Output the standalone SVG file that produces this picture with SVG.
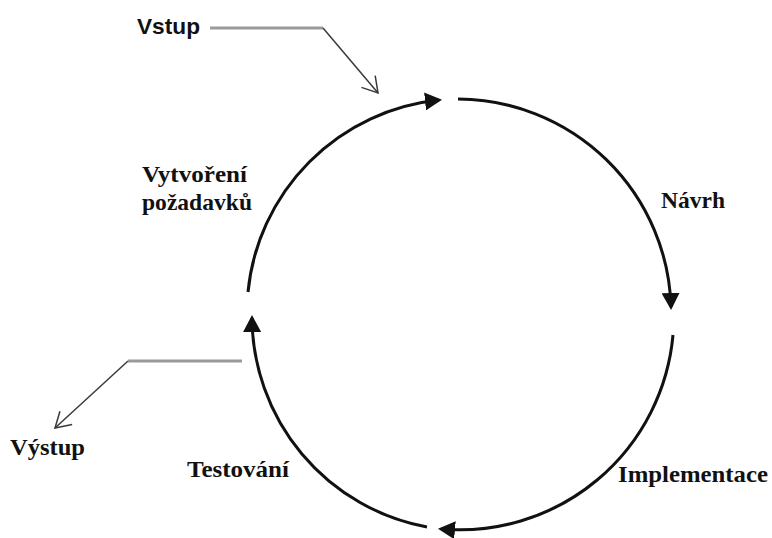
<svg xmlns="http://www.w3.org/2000/svg" width="772" height="538" viewBox="0 0 772 538">
  <style>
    .phase { font-family: "Liberation Serif", "Times New Roman", serif; font-weight: bold; font-size: 24px; fill: #111; }
    .io { font-family: "Liberation Sans", Arial, sans-serif; font-weight: bold; font-size: 22px; fill: #111; }
    .cycle { fill: none; stroke: #111; stroke-width: 3; marker-end: url(#solid-head); }
    .lead { fill: none; stroke: #9a9a9a; stroke-width: 3; }
    .pointer { fill: none; stroke: #3a3a3a; stroke-width: 1.5; marker-end: url(#open-head); }
  </style>
  <defs>
    <marker id="solid-head" markerUnits="userSpaceOnUse" markerWidth="18" markerHeight="18" refX="14" refY="9" orient="auto">
      <path d="M0,0 L17,9 L0,18 Z" fill="#111"/>
    </marker>
    <marker id="open-head" markerUnits="userSpaceOnUse" markerWidth="20" markerHeight="22" refX="16" refY="10" orient="auto">
      <path d="M1,1 L16,10 L1,19" fill="none" stroke="#3a3a3a" stroke-width="1.5"/>
    </marker>
  </defs>

  <rect width="772" height="538" fill="#fff"/>

  <!-- cycle arcs and input/output pointers -->
  <g id="connectors">
    <path class="cycle" d="M248,292 A214,214 0 0 1 439,100"/>
    <path class="cycle" d="M458,99 A214,214 0 0 1 671,307"/>
    <path class="cycle" d="M673,335 A214,214 0 0 1 441,529"/>
    <path class="cycle" d="M427,527 A214,214 0 0 1 252,318"/>

    <path class="lead" d="M210,28 L323,28"/>
    <path class="pointer" d="M323,28 L378,93"/>
    <path class="lead" d="M242,361 L128,361"/>
    <path class="pointer" d="M128,361 L55,428"/>
  </g>

  <g id="vstup">
    <text class="io" x="137" y="34" textLength="63" lengthAdjust="spacingAndGlyphs">Vstup</text>
  </g>
  <g id="vytvoreni-pozadavku">
    <text class="phase" x="142" y="182" textLength="105" lengthAdjust="spacingAndGlyphs">Vytvoření</text>
    <text class="phase" x="142" y="210" textLength="110" lengthAdjust="spacingAndGlyphs">požadavků</text>
  </g>
  <g id="navrh">
    <text class="phase" x="661" y="208" textLength="64" lengthAdjust="spacingAndGlyphs">Návrh</text>
  </g>
  <g id="implementace">
    <text class="phase" x="618" y="482" textLength="150" lengthAdjust="spacingAndGlyphs">Implementace</text>
  </g>
  <g id="testovani">
    <text class="phase" x="187" y="477" textLength="102" lengthAdjust="spacingAndGlyphs">Testování</text>
  </g>
  <g id="vystup">
    <text class="phase" x="10" y="455" textLength="75" lengthAdjust="spacingAndGlyphs">Výstup</text>
  </g>
</svg>
